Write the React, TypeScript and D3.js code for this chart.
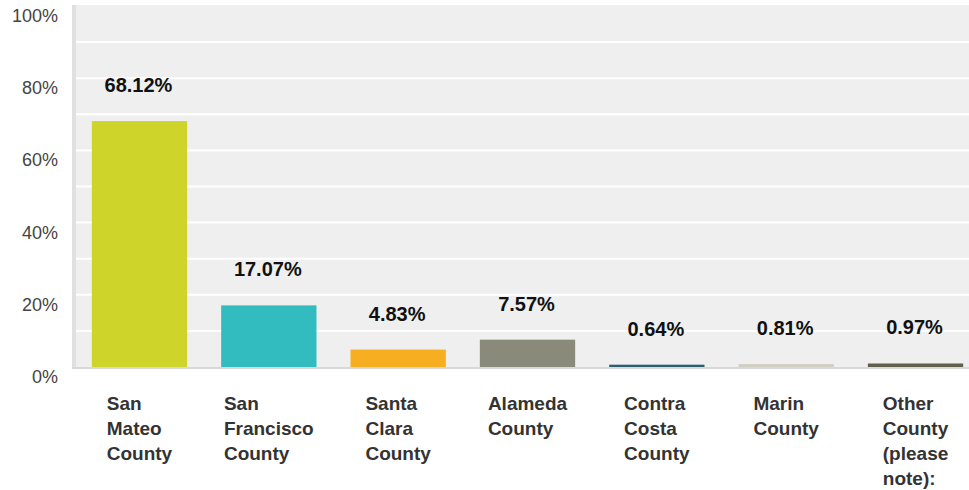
import React from "react";
import * as d3 from "d3";

const categories = [
  "San Mateo County",
  "San Francisco County",
  "Santa Clara County",
  "Alameda County",
  "Contra Costa County",
  "Marin County",
  "Other County (please note):",
];
const values = [68.12, 17.07, 4.83, 7.57, 0.64, 0.81, 0.97];
const colors = ["#CFD42A", "#33BCBF", "#F7AF21", "#898A79", "#2A5F70", "#D0CFC2", "#615F4E"];
const yTicks = [0, 20, 40, 60, 80, 100];
const gridTicks = [10, 20, 30, 40, 50, 60, 70, 80, 90];
const labelLines = [
  ["San", "Mateo", "County"],
  ["San", "Francisco", "County"],
  ["Santa", "Clara", "County"],
  ["Alameda", "County"],
  ["Contra", "Costa", "County"],
  ["Marin", "County"],
  ["Other", "County", "(please", "note):"],
];

const FONT = "'Liberation Sans', Arial, Helvetica, sans-serif";

let ctx: CanvasRenderingContext2D | null = null;
function measure(text: string, font: string): number {
  if (!ctx) {
    const c = document.createElement("canvas");
    ctx = c.getContext("2d");
  }
  if (!ctx) return text.length * 10;
  ctx.font = font;
  return ctx.measureText(text).width;
}

export default function App() {
  const W = 969;
  const H = 490;
  const plotLeft = 76;
  const plotRight = 969;
  const y = d3.scaleLinear().domain([0, 100]).range([367, 6]);
  const x = d3
    .scaleBand<string>()
    .domain(categories)
    .range([75, 980])
    .paddingInner(0.263)
    .paddingOuter(0.13);

  return (
    <svg
      width={W}
      height={H}
      style={{ position: "absolute", left: 0, top: 0, background: "#fff" }}
      fontFamily={FONT}
    >
      <rect x={plotLeft} y={y(100) - 1} width={plotRight - plotLeft} height={y(0) - y(100) + 1} fill="#EFEFEF" />
      {gridTicks.map((t) => (
        <line key={t} x1={plotLeft} x2={plotRight} y1={y(t)} y2={y(t)} stroke="#fff" strokeWidth={2} />
      ))}
      <rect x={72} y={y(100) - 1} width={4} height={y(0) - y(100) + 2} fill="#E0E0E0" />
      <rect x={72} y={y(0)} width={plotRight - 72} height={2} fill="#D8D8D8" />
      {yTicks.map((t) => (
        <text
          key={t}
          x={58}
          y={y(t) + 16}
          textAnchor="end"
          fontSize={18}
          fill="#444"
        >
          {t}%
        </text>
      ))}
      {categories.map((c, i) => {
        const bx = x(c) as number;
        const bw = x.bandwidth();
        const top = y(values[i]);
        return (
          <g key={c}>
            <rect x={bx} y={top} width={bw} height={y(0) - top} fill={colors[i]} />
            <text
              x={bx + bw / 2 - 1}
              y={top - 29}
              textAnchor="middle"
              fontSize={20}
              fontWeight="bold"
              fill="#111"
            >
              {values[i].toFixed(2)}%
            </text>
          </g>
        );
      })}
      {categories.map((c, i) => {
        const bx = x(c) as number;
        const bw = x.bandwidth();
        const font = `bold 19px ${FONT}`;
        const maxW = d3.max(labelLines[i], (l) => measure(l, font)) || 0;
        const lx = bx + (bw - maxW) / 2;
        return (
          <text key={c} x={lx} y={410} fontSize={19} fontWeight="bold" fill="#333">
            {labelLines[i].map((l, j) => (
              <tspan key={j} x={lx} y={410 + j * 25}>
                {l}
              </tspan>
            ))}
          </text>
        );
      })}
    </svg>
  );
}
